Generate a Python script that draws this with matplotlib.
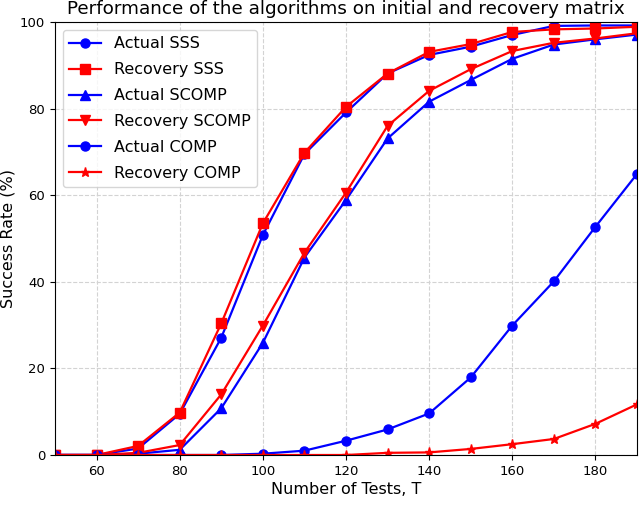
import numpy as np
import matplotlib
matplotlib.use("Agg")
import matplotlib.pyplot as plt

# number of tests
T = [50, 60, 70, 80, 90, 100, 110, 120, 130, 140, 150, 160, 170, 180, 190]

# success rates (%)
actual_sss = [0, 0, 1.5, 9.5, 27.1, 50.8, 69.5, 79.1, 88.1, 92.4, 94.3, 97.0, 99.1, 99.2, 99.2]
recovery_sss = [0, 0, 2.1, 9.8, 30.4, 53.5, 69.8, 80.4, 88.1, 93.1, 94.9, 97.7, 98.3, 98.5, 98.9]
actual_scomp = [0, 0, 0.3, 1.2, 10.8, 25.9, 45.6, 58.9, 73.1, 81.6, 86.6, 91.5, 94.8, 96.0, 97.1]
recovery_scomp = [0, 0, 0.5, 2.3, 14.0, 29.9, 46.7, 60.6, 76.0, 84.1, 89.1, 93.3, 95.2, 96.2, 97.4]
actual_comp = [0, 0, 0, 0, 0, 0.3, 1.0, 3.3, 5.9, 9.6, 17.9, 29.9, 40.1, 52.7, 64.9]
recovery_comp = [0, 0, 0, 0, 0, 0, 0, 0, 0.5, 0.6, 1.4, 2.5, 3.7, 7.2, 11.7]

fig = plt.figure(figsize=(6.4, 5.17), dpi=100)
ax = fig.add_axes([55/640, 62/517, 582/640, 433/517])

ax.plot(T, actual_sss, 'bo-', ms=6.5, lw=1.6, label='Actual SSS')
ax.plot(T, recovery_sss, 'rs-', ms=6.5, lw=1.6, label='Recovery SSS')
ax.plot(T, actual_scomp, 'b^-', ms=6.5, lw=1.6, label='Actual SCOMP')
ax.plot(T, recovery_scomp, 'rv-', ms=6.5, lw=1.6, label='Recovery SCOMP')
ax.plot(T, actual_comp, 'bo-', ms=6.5, lw=1.6, label='Actual COMP')
ax.plot(T, recovery_comp, 'r*-', ms=6.5, lw=1.6, label='Recovery COMP')

ax.set_xlim(50, 190)
ax.set_ylim(0, 100)
ax.tick_params(labelsize=9.5)
ax.grid(True, linestyle='--', color='lightgray')
ax.set_xlabel("Number of Tests, T", fontsize=11.5, labelpad=3)
ax.set_ylabel("Success Rate (%)", fontsize=11.5, labelpad=3)
ax.set_title("Performance of the algorithms on initial and recovery matrix", fontsize=13.2)
ax.legend(loc='upper left', fontsize=11.5, labelspacing=0.68)

fig.savefig("out.png", dpi=100)
